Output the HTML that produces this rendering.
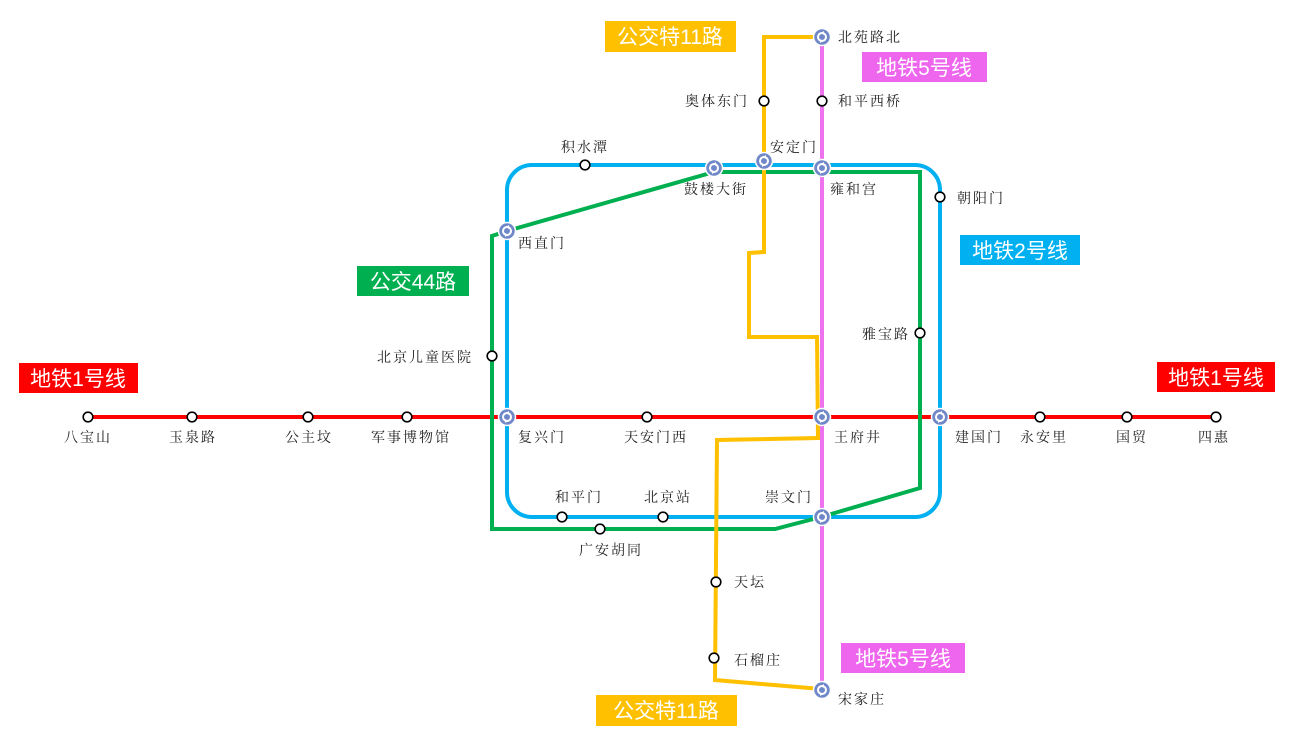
<!DOCTYPE html>
<html><head><meta charset="utf-8"><style>
body{margin:0;background:#fff;width:1295px;height:729px;overflow:hidden}
svg{display:block}
.s{font-family:"Noto Serif CJK SC","Liberation Serif",serif;font-size:14px;fill:#222;letter-spacing:2px}
.b{font-family:"Liberation Sans","Noto Sans CJK SC",sans-serif;font-size:21px;fill:#fff}
</style></head><body>
<svg width="1295" height="729" xmlns="http://www.w3.org/2000/svg">
<defs>
<g id="ic"><circle r="8.5" fill="#7088c8" stroke="#fff" stroke-width="1.5"/><circle r="4" fill="none" stroke="#fff" stroke-width="2"/><path d="M-1,-4 l3,-2 v4z M1,4 l-3,2 v-4z" fill="#fff"/></g>
<g id="st"><circle r="4.8" fill="#fff" stroke="#000" stroke-width="1.6"/></g>
</defs>
<line x1="88" y1="417" x2="1216" y2="417" stroke="#ff0000" stroke-width="4"/>
<rect x="507" y="165" width="433" height="352" rx="25" fill="none" stroke="#00b0f0" stroke-width="4"/>
<polyline points="492,356 492,236 507,231 714,172 920,172 920,488 821,517 775,529 492,529 492,356" fill="none" stroke="#00b050" stroke-width="4"/>
<line x1="822" y1="37" x2="822" y2="690" stroke="#ee72ee" stroke-width="4"/>
<polyline points="821,37 764,37 764,252 749,253 749,337 817,337 818,438 717,440 715,680 821,689" fill="none" stroke="#ffc000" stroke-width="4"/>
<use href="#st" x="88" y="417"/><use href="#st" x="192" y="417"/><use href="#st" x="308" y="417"/><use href="#st" x="407" y="417"/>
<use href="#st" x="647" y="417"/><use href="#st" x="1040" y="417"/><use href="#st" x="1127" y="417"/><use href="#st" x="1216" y="417"/>
<use href="#st" x="585" y="165"/><use href="#st" x="940" y="197"/><use href="#st" x="492" y="356"/><use href="#st" x="920" y="333"/>
<use href="#st" x="562" y="517"/><use href="#st" x="663" y="517"/><use href="#st" x="600" y="529"/>
<use href="#st" x="764" y="101"/><use href="#st" x="822" y="101"/><use href="#st" x="716" y="582"/><use href="#st" x="714" y="658"/>
<use href="#ic" x="822" y="37"/><use href="#ic" x="764" y="161"/><use href="#ic" x="822" y="168"/><use href="#ic" x="714" y="168"/>
<use href="#ic" x="507" y="231"/><use href="#ic" x="507" y="417"/><use href="#ic" x="822" y="417"/><use href="#ic" x="940" y="417"/>
<use href="#ic" x="822" y="517"/><use href="#ic" x="822" y="690"/>
<g class="s">
<text x="88" y="442" text-anchor="middle">八宝山</text>
<text x="193" y="442" text-anchor="middle">玉泉路</text>
<text x="309" y="442" text-anchor="middle">公主坟</text>
<text x="411" y="442" text-anchor="middle">军事博物馆</text>
<text x="518" y="442">复兴门</text>
<text x="656" y="442" text-anchor="middle">天安门西</text>
<text x="834" y="442">王府井</text>
<text x="955" y="442">建国门</text>
<text x="1044" y="442" text-anchor="middle">永安里</text>
<text x="1132" y="442" text-anchor="middle">国贸</text>
<text x="1214" y="442" text-anchor="middle">四惠</text>
<text x="585" y="152" text-anchor="middle">积水潭</text>
<text x="716" y="194" text-anchor="middle">鼓楼大街</text>
<text x="770" y="152">安定门</text>
<text x="830" y="194">雍和宫</text>
<text x="518" y="248">西直门</text>
<text x="957" y="203">朝阳门</text>
<text x="473" y="362" text-anchor="end">北京儿童医院</text>
<text x="910" y="339" text-anchor="end">雅宝路</text>
<text x="579" y="502" text-anchor="middle">和平门</text>
<text x="668" y="502" text-anchor="middle">北京站</text>
<text x="789" y="502" text-anchor="middle">崇文门</text>
<text x="611" y="555" text-anchor="middle">广安胡同</text>
<text x="734" y="587">天坛</text>
<text x="734" y="665">石榴庄</text>
<text x="838" y="704">宋家庄</text>
<text x="838" y="42">北苑路北</text>
<text x="838" y="106">和平西桥</text>
<text x="749" y="106" text-anchor="end">奥体东门</text>
</g>
<rect x="605" y="21" width="131" height="31" fill="#ffc000"/><text class="b" x="670" y="44" text-anchor="middle">公交特11路</text>
<rect x="862" y="52" width="125" height="30" fill="#ee66ee"/><text class="b" x="924" y="75" text-anchor="middle">地铁5号线</text>
<rect x="960" y="235" width="120" height="30" fill="#00b0f0"/><text class="b" x="1020" y="258" text-anchor="middle">地铁2号线</text>
<rect x="357" y="266" width="112" height="30" fill="#00b050"/><text class="b" x="413" y="289" text-anchor="middle">公交44路</text>
<rect x="19" y="363" width="119" height="30" fill="#ff0000"/><text class="b" x="78" y="386" text-anchor="middle">地铁1号线</text>
<rect x="1157" y="362" width="118" height="30" fill="#ff0000"/><text class="b" x="1216" y="385" text-anchor="middle">地铁1号线</text>
<rect x="841" y="643" width="124" height="30" fill="#ee66ee"/><text class="b" x="903" y="666" text-anchor="middle">地铁5号线</text>
<rect x="596" y="695" width="141" height="31" fill="#ffc000"/><text class="b" x="666" y="718" text-anchor="middle">公交特11路</text>
</svg>
</body></html>
